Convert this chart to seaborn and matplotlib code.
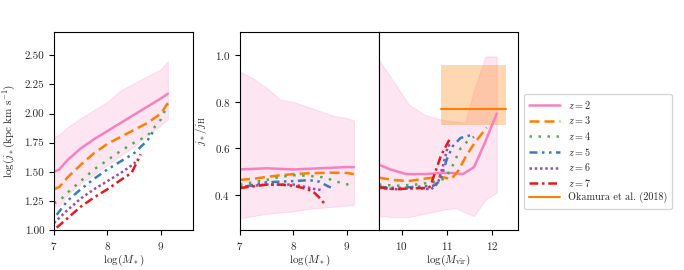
import numpy as np
import pandas as pd
import seaborn as sns
import matplotlib
matplotlib.use("Agg")
import matplotlib.pyplot as plt

# ---- data ----
# panel 1: log j_* vs log M_*
p1_x = {
    2: [7.0, 7.1, 7.25, 7.5, 7.75, 8.0, 8.25, 8.5, 8.75, 9.0, 9.13],
    3: [7.0, 7.1, 7.25, 7.5, 7.75, 8.0, 8.25, 8.5, 8.75, 9.0, 9.13],
    4: [7.0, 7.1, 7.25, 7.5, 7.75, 8.0, 8.25, 8.5, 8.75, 9.0, 9.13],
    5: [7.05, 7.25, 7.5, 7.75, 8.0, 8.25, 8.5, 8.75, 8.86],
    6: [7.0, 7.25, 7.5, 7.75, 8.0, 8.25, 8.5, 8.55],
    7: [7.05, 7.25, 7.5, 7.75, 8.0, 8.25, 8.45, 8.55, 8.62],
}
p1_y = {
    2: [1.50, 1.52, 1.60, 1.70, 1.78, 1.85, 1.92, 1.99, 2.06, 2.13, 2.17],
    3: [1.35, 1.37, 1.45, 1.56, 1.66, 1.74, 1.80, 1.86, 1.92, 2.00, 2.09],
    4: [1.23, 1.25, 1.32, 1.42, 1.52, 1.60, 1.68, 1.75, 1.81, 1.95, 2.08],
    5: [1.13, 1.25, 1.35, 1.44, 1.52, 1.59, 1.66, 1.77, 1.85],
    6: [1.06, 1.17, 1.27, 1.35, 1.42, 1.49, 1.57, 1.61],
    7: [1.02, 1.10, 1.20, 1.28, 1.35, 1.43, 1.49, 1.58, 1.65],
}
p1_lo = [1.20, 1.21, 1.30, 1.40, 1.48, 1.56, 1.64, 1.72, 1.82, 1.90, 1.95]
p1_hi = [1.80, 1.82, 1.88, 1.96, 2.03, 2.10, 2.20, 2.26, 2.32, 2.38, 2.45]

# panel 2: j_*/j_H vs log M_*
p2_x = {
    2: [7.0, 7.5, 8.0, 8.5, 9.0, 9.13],
    3: [7.0, 7.25, 7.5, 7.75, 8.0, 8.25, 8.5, 8.75, 9.0, 9.13],
    4: [7.0, 7.25, 7.5, 7.75, 8.0, 8.26, 8.57, 8.82, 9.1],
    5: [7.1, 7.5, 8.0, 8.3, 8.49, 8.65, 8.78],
    6: [7.0, 7.5, 8.0, 8.2, 8.39, 8.56],
    7: [7.0, 7.5, 7.75, 8.0, 8.26, 8.39, 8.48, 8.6],
}
p2_y = {
    2: [0.51, 0.515, 0.51, 0.515, 0.52, 0.52],
    3: [0.465, 0.47, 0.478, 0.485, 0.49, 0.493, 0.495, 0.496, 0.495, 0.49],
    4: [0.445, 0.455, 0.465, 0.478, 0.485, 0.483, 0.476, 0.457, 0.44],
    5: [0.437, 0.455, 0.46, 0.464, 0.457, 0.437, 0.426],
    6: [0.435, 0.445, 0.445, 0.436, 0.426, 0.42],
    7: [0.43, 0.445, 0.445, 0.44, 0.426, 0.41, 0.39, 0.358],
}
p2_band_x = [7.0, 7.25, 7.5, 7.75, 8.0, 8.25, 8.5, 8.75, 9.0, 9.13]
p2_lo = [0.30, 0.31, 0.32, 0.325, 0.33, 0.34, 0.345, 0.35, 0.355, 0.357]
p2_hi = [0.93, 0.90, 0.86, 0.81, 0.80, 0.78, 0.76, 0.74, 0.73, 0.72]

# panel 3: j_*/j_H vs log M_vir
p3_x = {
    2: [9.5, 9.75, 10.1, 10.5, 10.9, 11.1, 11.35, 11.6, 11.85, 12.1],
    3: [9.5, 9.8, 10.15, 10.5, 10.84, 11.1, 11.25, 11.43, 11.62, 11.88],
    4: [9.5, 9.9, 10.3, 10.7, 10.95, 11.1, 11.3, 11.45, 11.6],
    5: [9.5, 9.9, 10.3, 10.7, 10.85, 11.0, 11.13, 11.3, 11.58],
    6: [9.5, 9.9, 10.3, 10.65, 10.8, 10.92, 11.02, 11.1],
    7: [9.5, 9.87, 10.3, 10.6, 10.65, 10.87, 11.06],
}
p3_y = {
    2: [0.53, 0.51, 0.49, 0.49, 0.495, 0.495, 0.49, 0.52, 0.63, 0.75],
    3: [0.475, 0.465, 0.46, 0.47, 0.479, 0.469, 0.505, 0.57, 0.626, 0.69],
    4: [0.445, 0.44, 0.445, 0.455, 0.47, 0.515, 0.60, 0.63, 0.65],
    5: [0.435, 0.43, 0.435, 0.44, 0.46, 0.555, 0.61, 0.645, 0.66],
    6: [0.43, 0.425, 0.43, 0.425, 0.45, 0.53, 0.61, 0.62],
    7: [0.433, 0.425, 0.43, 0.43, 0.447, 0.57, 0.64],
}
p3_band_x = [9.5, 9.85, 10.15, 10.5, 10.85, 11.0, 11.2, 11.4, 11.6, 11.85, 12.1]
p3_lo = [0.31, 0.305, 0.305, 0.32, 0.333, 0.34, 0.345, 0.325, 0.31, 0.38, 0.41]
p3_hi = [0.98, 0.88, 0.79, 0.745, 0.725, 0.72, 0.715, 0.71, 0.85, 0.995, 0.995]

# Okamura et al. (2018)
oka_x = [10.88, 12.3]
oka_y = 0.77
oka_lo, oka_hi = 0.70, 0.96

redshifts = [2, 3, 4, 5, 6, 7]
colors = {2: "#f781bf", 3: "#ff7f00", 4: "#4daf4a", 5: "#377eb8", 6: "#984ea3", 7: "#e41a1c"}
styles = {2: "-", 3: (0, (4, 2)), 4: (0, (1, 2.6)), 5: (0, (3.2, 1.8, 1, 1.8, 1, 1.8)),
          6: (0, (1, 1.1)), 7: (0, (3.5, 1.5, 1, 1.5))}

sns.set_style("ticks")
plt.rcParams["font.family"] = "serif"
plt.rcParams["font.serif"] = ["cmr10", "DejaVu Serif"]
plt.rcParams["mathtext.fontset"] = "cm"
plt.rcParams["axes.unicode_minus"] = False
plt.rcParams["axes.formatter.use_mathtext"] = True
plt.rcParams["font.size"] = 8

fig = plt.figure(figsize=(6.84, 2.70), dpi=100)
ax1 = fig.add_axes([54 / 684, 40 / 270, 139 / 684, 198 / 270])
ax2 = fig.add_axes([240 / 684, 40 / 270, 139 / 684, 198 / 270])
ax3 = fig.add_axes([379 / 684, 40 / 270, 139 / 684, 198 / 270])

lw = 1.8
pink = colors[2]


def draw(ax, xs, ys):
    for z in redshifts:
        sns.lineplot(x=xs[z], y=ys[z], ax=ax, color=colors[z], linestyle=styles[z],
                     linewidth=lw, label=f"$z={z}$", legend=False)


ax1.fill_between(p1_x[2], p1_lo, p1_hi, color=pink, alpha=0.2, linewidth=0.8)
draw(ax1, p1_x, p1_y)
ax1.set_xlim(7, 9.6)
ax1.set_ylim(1.0, 2.7)
ax1.set_yticks([1.0, 1.25, 1.5, 1.75, 2.0, 2.25, 2.5])
ax1.set_yticklabels(["1.00", "1.25", "1.50", "1.75", "2.00", "2.25", "2.50"])
ax1.set_xticks([7, 8, 9])
ax1.set_xlabel(r"$\log(M_*)$", labelpad=1)
ax1.set_ylabel(r"$\log(j_*({\rm kpc\ km\ s^{-1}})$", labelpad=5)

ax2.fill_between(p2_band_x, p2_lo, p2_hi, color=pink, alpha=0.2, linewidth=0.8)
draw(ax2, p2_x, p2_y)
ax2.set_xlim(7, 9.6)
ax2.set_ylim(0.25, 1.1)
ax2.set_yticks([0.4, 0.6, 0.8, 1.0])
ax2.set_xticks([7, 8, 9])
ax2.set_xlabel(r"$\log(M_*)$", labelpad=1)
ax2.set_ylabel(r"$j_*/j_{\rm H}$")

ax3.fill_between(p3_band_x, p3_lo, p3_hi, color=pink, alpha=0.2, linewidth=0.8)
draw(ax3, p3_x, p3_y)
ax3.fill_between(oka_x, [oka_lo] * 2, [oka_hi] * 2, color="#ff7f00", alpha=0.3, linewidth=0)
ax3.plot(oka_x, [oka_y] * 2, color="#ff7f00", linewidth=1.5, label="Okamura et al. (2018)")
ax3.set_xlim(9.5, 12.57)
ax3.set_ylim(0.25, 1.1)
ax3.set_yticks([])
ax3.set_xticks([10, 11, 12])
ax3.set_xlabel(r"$\log(M_{\rm vir})$", labelpad=1)

for ax in (ax1, ax2, ax3):
    for s in ax.spines.values():
        s.set_visible(True)
        s.set_color("black")
        s.set_linewidth(0.8)
    ax.tick_params(labelsize=8, length=3.5, width=0.8, color="black")

handles, labels = ax3.get_legend_handles_labels()
leg = fig.legend(handles, labels, loc="center left", bbox_to_anchor=(519 / 684, 0.44),
                 fontsize=7.3, frameon=True, handlelength=3.0, borderpad=0.5,
                 labelspacing=0.35)
leg.get_frame().set_edgecolor("#cccccc")

fig.savefig("out.png", dpi=100)
